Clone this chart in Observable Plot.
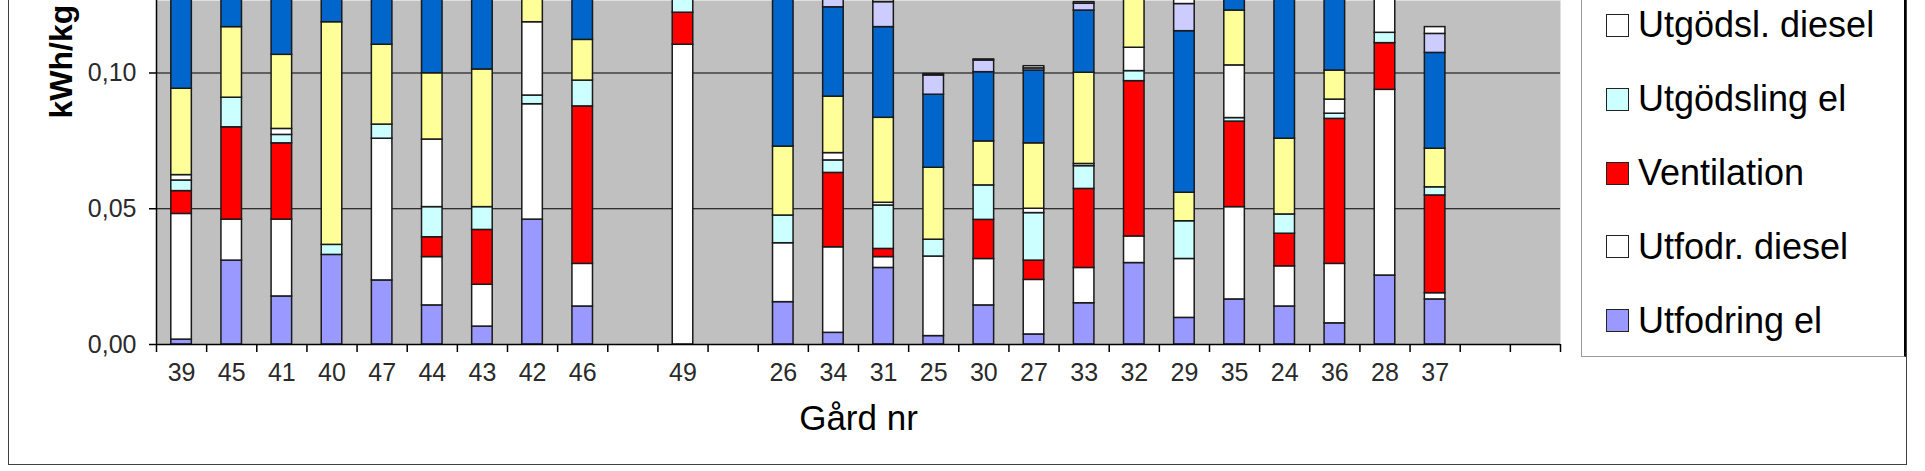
<!DOCTYPE html>
<html>
<head>
<meta charset="utf-8">
<script src="https://cdn.jsdelivr.net/npm/d3@7"></script>
<script src="https://cdn.jsdelivr.net/npm/@observablehq/plot@0.6"></script>
<style>
  html, body { margin: 0; padding: 0; background: #fff; overflow: hidden; }
  #wrap { position: relative; width: 1925px; height: 471px; overflow: hidden; font-family: "Liberation Sans", Arial, sans-serif; }
  #chart { position: absolute; left: 0; top: 0; }
  #frame { position: absolute; left: 8px; top: -10px; width: 1899px; height: 474.5px; border: 1.5px solid #404040; box-sizing: border-box; pointer-events: none; }
  #legend { position: absolute; left: 1581px; top: -10px; width: 325px; height: 366.5px; box-sizing: border-box;
            border-left: 1.5px solid #9a9a9a; border-bottom: 1.5px solid #9a9a9a; border-right: 2.5px solid #000; background: #fff; }
  .item { position: absolute; left: 24px; height: 40px; display: flex; align-items: center; white-space: nowrap; }
  .sw { width: 21px; height: 21px; border: 1.5px solid #222; margin-right: 9px; flex: none; }
  .lab { font-size: 36px; color: #000; line-height: 40px; }
</style>
</head>
<body>
<div id="wrap">
  <div id="chart"></div>
  <div id="frame"></div>
  <div id="legend"></div>
</div>
<script>
// ---- Data (top of the chart is cropped) ----
const categories = ["39","45","41","40","47","44","43","42","46","","49","","26","34","31","25","30","27","33","32","29","35","24","36","28","37","",""];

const utfodringEl   = [0.0018,0.0309,0.0177,0.0330,0.0236,0.0144,0.0066,0.0460,0.0140,null,0,null,0.0156,0.0043,0.0282,0.0031,0.0144,0.0037,0.0152,0.0300,0.0098,0.0166,0.0140,0.0078,0.0254,0.0166,null,null];
const utfodrDiesel  = [0.0463,0.0151,0.0283,0,0.0522,0.0178,0.0154,0.0425,0.0157,null,0.1104,null,0.0217,0.0315,0.0040,0.0293,0.0171,0.0201,0.0130,0.0098,0.0217,0.0340,0.0148,0.0219,0.0684,0.0023,null,null];
const ventilation   = [0.0084,0.0340,0.0281,0,0,0.0073,0.0202,0,0.0580,null,0.0118,null,0,0.0274,0.0030,0,0.0144,0.0071,0.0291,0.0572,0,0.0315,0.0120,0.0534,0.0172,0.0360,null,null];
const utgodslingEl  = [0.0039,0.0109,0.0031,0.0037,0.0052,0.0111,0.0084,0.0032,0.0095,null,0.0100,null,0.0102,0.0046,0.0160,0.0062,0.0127,0.0175,0.0084,0.0037,0.0139,0.0013,0.0071,0.0019,0.0038,0.0030,null,null];
const utgodslDiesel = [0.0020,0,0.0022,0,0,0.0249,0,0.0270,0,null,0.0040,null,0,0.0027,0.0010,0,0,0.0016,0.0008,0.0086,0,0.0194,0,0.0052,0.0200,0,null,null];
const belysning     = [0.0318,0.0260,0.0273,0.0820,0.0294,0.0244,0.0507,0.0200,0.0150,null,0.0080,null,0.0254,0.0208,0.0313,0.0265,0.0162,0.0241,0.0336,0.0250,0.0105,0.0202,0.0279,0.0107,0.0100,0.0142,null,null];
const mjolkkyla     = [0.0400,0.0300,0.0350,0.0250,0.0300,0.0350,0.0350,0.0300,0.0300,null,0.0200,null,0.0700,0.0329,0.0334,0.0269,0.0255,0.0268,0.0229,0.0300,0.0595,0.0300,0.0600,0.0400,0.0200,0.0353,null,null];
const vakuum        = [0.0050,0.0050,0.0050,0.0050,0.0050,0.0050,0.0050,0.0050,0.0050,null,0.0050,null,0.0050,0.0060,0.0092,0.0071,0.0043,0.0008,0.0025,0.0050,0.0100,0.0050,0.0050,0.0050,0.0050,0.0070,null,null];
const ovrigt        = [0.0020,0.0020,0.0020,0.0020,0.0020,0.0020,0.0020,0.0020,0.0020,null,0.0020,null,0.0020,0.0020,0.0008,0.0005,0.0004,0.0008,0.0006,0.0020,0.0020,0.0020,0.0020,0.0020,0.0020,0.0025,null,null];

const seriesNames  = ["Utfodring el","Utfodr. diesel","Ventilation","Utgödsling el","Utgödsl. diesel","Belysning","Mjölkkyla","Vakuum","Övrigt"];
const seriesValues = [utfodringEl, utfodrDiesel, ventilation, utgodslingEl, utgodslDiesel, belysning, mjolkkyla, vakuum, ovrigt];
const seriesColors = ["#9999FF","#FFFFFF","#FF0000","#CCFFFF","#FFFFFF","#FFFF99","#0066CC","#CCCCFF","#FFFFFF"];
const legendNames  = ["Utgödsl. diesel","Utgödsling el","Ventilation","Utfodr. diesel","Utfodring el"];
const yTicks = [0, 0.05, 0.10];

// ---- Build table ----
const data = [];
seriesNames.forEach((s, k) => {
  seriesValues[k].forEach((v, i) => {
    if (v != null && v > 0) data.push({i, i2: i + 1, series: s, color: seriesColors[k], value: v});
  });
});
const labels = categories.map((c, i) => ({i: i + 0.5, label: c})).filter(d => d.label !== "");

const chart = Plot.plot({
  width: 1925,
  height: 471,
  marginTop: 0,
  marginBottom: 127,
  marginLeft: 156,
  marginRight: 365,
  style: {fontFamily: "'Liberation Sans', Arial, sans-serif", background: "transparent", overflow: "visible"},
  x: {domain: [0, categories.length]},
  y: {domain: [0, 0.1267]},
  marks: [
    Plot.frame({fill: "#C0C0C0"}),
    Plot.ruleY([0.05, 0.10], {stroke: "#000", strokeWidth: 1.2}),
    Plot.rectY(data, {x1: "i", x2: "i2", y: "value", z: "series", fill: "color",
      stroke: "#1a1a1a", strokeWidth: 1.5, insetLeft: 14.8, insetRight: 14.8, clip: true}),
    Plot.ruleY([0], {stroke: "#000", strokeWidth: 1.5}),
    Plot.ruleX([0], {stroke: "#000", strokeWidth: 1.5}),
    Plot.axisX({ticks: d3.range(0, categories.length + 1), tickSize: 8, fill: "none", stroke: "#000", strokeWidth: 1.5, label: null}),
    Plot.axisY({ticks: yTicks, tickSize: 7, tickPadding: 13, stroke: "#000", strokeWidth: 1.5,
      tickFormat: d => d.toFixed(2).replace(".", ","), fontSize: 25, fill: "#2a2a2a", label: null}),
    Plot.text(labels, {x: "i", text: "label", frameAnchor: "bottom", dy: 36, fontSize: 25, fill: "#2a2a2a"}),
    Plot.text(["Gård nr"], {x: categories.length / 2, frameAnchor: "bottom", dy: 85, fontSize: 35, fill: "#000"}),
    Plot.text(["kWh/kg"], {frameAnchor: "top-left", dx: -107, dy: 118, rotate: -90, textAnchor: "start",
      fontSize: 32, fontWeight: "bold", fill: "#000"})
  ]
});
document.getElementById("chart").appendChild(chart);

// ---- Legend (top part cropped like the reference) ----
const legend = document.getElementById("legend");
legendNames.forEach((name, j) => {
  const k = seriesNames.indexOf(name);
  const item = document.createElement("div");
  item.className = "item";
  item.style.top = (10 + 25.3 + j * 73.85 - 20) + "px";
  const sw = document.createElement("div");
  sw.className = "sw";
  sw.style.background = seriesColors[k];
  const lab = document.createElement("span");
  lab.className = "lab";
  lab.textContent = name;
  item.appendChild(sw);
  item.appendChild(lab);
  legend.appendChild(item);
});
</script>
</body>
</html>
